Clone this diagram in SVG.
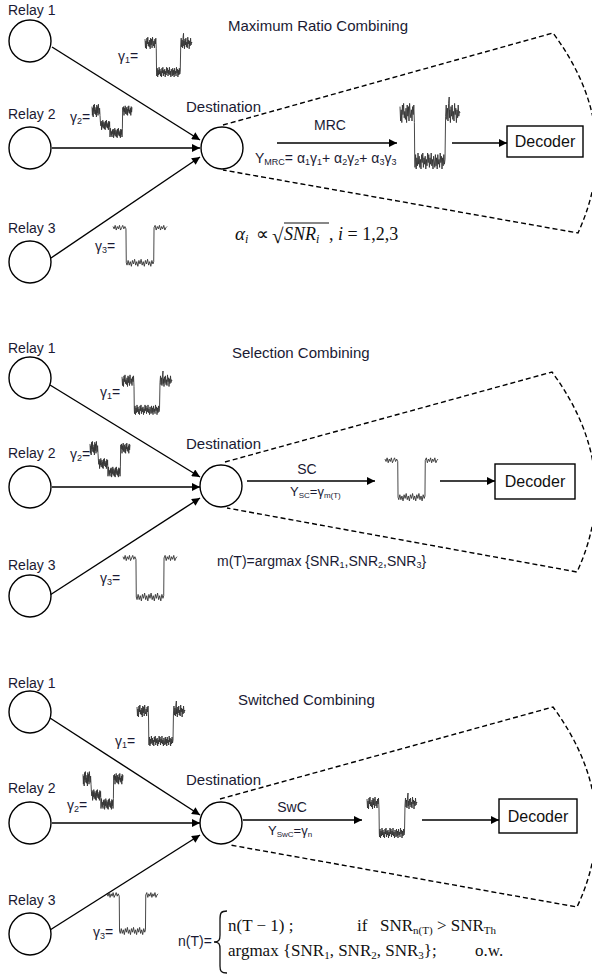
<svg xmlns="http://www.w3.org/2000/svg" xmlns:xlink="http://www.w3.org/1999/xlink" width="592" height="975" viewBox="0 0 592 975">
<style>
.t{font-family:"Liberation Sans",Arial,sans-serif;fill:#1a1a33}
.ti{font-size:15px}
.lb{font-size:14px}
.dec{font-size:16px;text-anchor:middle;fill:#111}
.m{font-family:"Liberation Serif","Times New Roman",serif;fill:#111}
.node{fill:#fff;stroke:#000;stroke-width:1.4}
.arr{stroke:#000;stroke-width:1.4;fill:none;marker-end:url(#ah)}
.dash{stroke:#000;stroke-width:1.4;stroke-dasharray:5 3;fill:none}
.wv{fill:none;stroke:#333;stroke-width:0.9;vector-effect:non-scaling-stroke;stroke-linejoin:round}
</style>
<defs>
<marker id="ah" viewBox="0 0 10 10" refX="10" refY="5" markerWidth="10" markerHeight="8" orient="auto" markerUnits="userSpaceOnUse"><path d="M0,0 L10,5 L0,10 z" fill="#000"/></marker>
<path id="wA" class="wv" d="M0,6 0.5,15 1,8 1.5,16 2,5 2.5,11 3,4 3.5,13 4,9 4.5,14 5,7 5.5,16 6,5 6.5,12 7,6 7.5,15 8,4 8.5,10 9,13 9.5,8 10,15 10.5,6 11,11 11.5,5 12,16 12.3,40 12.5,44 13,36 13.5,45 14,38 14.5,43 15,35 15.5,42 16,37 16.5,44 17,39 17.5,45 18,36 18.5,41 19,35 19.5,44 20,38 20.5,42 21,37 21.5,45 22,39 22.5,43 23,35 23.5,41 24,36 24.5,44 25,38 25.5,42 26,35 26.5,43 27,39 27.5,45 28,37 28.5,40 29,44 29.5,36 30,43 30.5,38 31,45 31.5,36 32,42 32.5,39 33,44 33.5,35 34,41 34.5,37 35,45 35.5,38 36,43 36.5,36 37,42 37.5,39 38,12 38.5,5 39,14 39.5,7 40,15 40.5,4 41,0 41.2,13 41.5,8 42,16 42.5,6 43,12 43.5,5 44,14 44.5,9 45,15 45.5,4 46,11 46.5,7 47,16 47.5,8 48,13 48.5,5 49,12 49.5,9 50,10"/>
<path id="wB" class="wv" d="M0,7 0.5,18 1,9 1.5,20 2,5 2.5,13 3,4 3.5,16 4,11 4.5,17 5,8 5.5,20 6,5 6.5,15 7,7 7.5,18 8,4 8.5,12 9,16 9.5,9 10,18 10.5,26 11,31 11.5,25 12,36 12.5,27 13,32 13.5,24 14,34 14.5,29 15,26 15.5,35 16,28 16.5,36 17,25 17.5,31 18,24 18.5,33 19,29 19.5,34 20,27 20.5,36 21,25 21.5,32 22,26 22.5,45 23,34 23.5,40 24,43 24.5,38 25,45 25.5,36 26,41 26.5,35 27,46 27.5,37 28,42 28.5,34 29,44 29.5,39 30,36 30.5,45 31,38 31.5,46 32,35 32.5,41 33,34 33.5,43 34,39 34.5,44 35,37 35.5,46 36,35 36.5,42 37,36 37.5,45 38,34 38.3,12 38.5,8 39,13 39.5,7 40,18 40.5,9 41,14 41.5,6 42,16 42.5,11 43,8 43.5,17 44,10 44.5,18 45,7 45.5,13 46,6 46.5,15 47,11 47.5,16 48,9 48.5,18 49,7 49.5,14 50,8"/>
<path id="wC" class="wv" d="M0,9 1,11 2,8 3,12 4,9 5,11 6,8 7,12 8,10 9,8 10,11 11,9 12,11 12.3,40 13,42 14,38 15,42 16,39 17,43 18,38 19,41 20,37 21,42 22,39 23,43 24,38 25,41 26,37 27,42 28,39 29,43 30,38 31,41 32,37 33,42 34,39 35,43 36,38 37,41 37.7,39 38,10 39,8 40,12 41,9 42,11 43,8 44,12 45,9 46,11 47,8 48,12 49,10 50,9"/>
</defs>
<rect width="592" height="975" fill="#fff"/>

<!-- connectors -->
<g id="connectors">
  <line class="arr" x1="52" y1="47" x2="200" y2="140"/>
  <line class="arr" x1="52" y1="148" x2="200" y2="148"/>
  <line class="arr" x1="51" y1="258" x2="200" y2="157"/>
  <line class="arr" x1="277" y1="143" x2="397" y2="143"/>
  <line class="arr" x1="452" y1="143" x2="507" y2="143"/>
  <path class="dash" d="M223,125 L553,33 Q625,130 578,233 L223,170"/>

  <line class="arr" x1="50" y1="385" x2="200" y2="477"/>
  <line class="arr" x1="52" y1="487" x2="200" y2="487"/>
  <line class="arr" x1="50" y1="595" x2="200" y2="498"/>
  <line class="arr" x1="247" y1="481" x2="375" y2="481"/>
  <line class="arr" x1="440" y1="481" x2="495" y2="481"/>
  <path class="dash" d="M225,462 L552,372 Q624,470 577,572 L227,508"/>

  <line class="arr" x1="50" y1="718" x2="200" y2="815"/>
  <line class="arr" x1="52" y1="823" x2="200" y2="823"/>
  <line class="arr" x1="50" y1="930" x2="200" y2="835"/>
  <line class="arr" x1="243" y1="820" x2="362" y2="820"/>
  <line class="arr" x1="422" y1="820" x2="499" y2="820"/>
  <path class="dash" d="M220,799 L553,707 Q625,805 577,907 L230,845"/>
</g>

<!-- Panel 1: MRC -->
<text class="t ti" x="228" y="31">Maximum Ratio Combining</text>
<g id="p1-relay1"><text class="t lb" x="8" y="15">Relay 1</text><circle class="node" cx="30" cy="41" r="21"/></g>
<g id="p1-relay2"><text class="t lb" x="8" y="119">Relay 2</text><circle class="node" cx="30" cy="148" r="21"/></g>
<g id="p1-relay3"><text class="t lb" x="8" y="233">Relay 3</text><circle class="node" cx="30" cy="262" r="21"/></g>
<g id="p1-dest"><text class="t ti" x="186" y="112">Destination</text><circle class="node" cx="222" cy="148" r="21"/></g>
<g id="p1-decoder"><rect class="node" x="507" y="126" width="76" height="31"/><text class="t dec" x="545" y="147">Decoder</text></g>
<g id="p1-signals">
  <text class="t lb" x="118" y="61">γ<tspan font-size="9" dy="2">1</tspan><tspan dy="-2">=</tspan></text>
  <use xlink:href="#wA" transform="translate(145,33.3) scale(0.94,0.97)"/>
  <text class="t lb" x="70" y="122">γ<tspan font-size="9" dy="2">2</tspan><tspan dy="-2">=</tspan></text>
  <use xlink:href="#wB" transform="translate(92,101) scale(0.8,0.8)"/>
  <text class="t lb" x="95" y="251">γ<tspan font-size="9" dy="2">3</tspan><tspan dy="-2">=</tspan></text>
  <use xlink:href="#wC" transform="translate(113,216) scale(1.08,1.17)"/>
  <use xlink:href="#wA" transform="translate(400,97) scale(1.2,1.6)"/>
</g>
<g id="p1-labels">
  <text class="t lb" x="330" y="130" text-anchor="middle">MRC</text>
  <text class="t lb" x="255" y="163">Y<tspan font-size="9" dy="2">MRC</tspan><tspan dy="-2">= α</tspan><tspan font-size="9" dy="2">1</tspan><tspan dy="-2">γ</tspan><tspan font-size="9" dy="2">1</tspan><tspan dy="-2">+ α</tspan><tspan font-size="9" dy="2">2</tspan><tspan dy="-2">γ</tspan><tspan font-size="9" dy="2">2</tspan><tspan dy="-2">+ α</tspan><tspan font-size="9" dy="2">3</tspan><tspan dy="-2">γ</tspan><tspan font-size="9" dy="2">3</tspan></text>
  <text class="m" x="235" y="240" font-size="19" font-style="italic">α<tspan font-size="12" dy="3">i</tspan></text>
  <text class="m" x="256" y="240" font-size="18">∝</text>
  <text class="m" x="272" y="243" font-size="21">√</text>
  <line x1="284" y1="223" x2="329" y2="223" stroke="#111" stroke-width="1.2"/>
  <text class="m" x="284" y="240" font-size="18" font-style="italic">SNR<tspan font-size="12" dy="3">i</tspan></text>
  <text class="m" x="329" y="240" font-size="18">, <tspan font-style="italic">i</tspan> = 1,2,3</text>
</g>

<!-- Panel 2: SC -->
<text class="t ti" x="232" y="358">Selection Combining</text>
<g id="p2-relay1"><text class="t lb" x="8" y="353">Relay 1</text><circle class="node" cx="30" cy="378" r="21"/></g>
<g id="p2-relay2"><text class="t lb" x="8" y="458">Relay 2</text><circle class="node" cx="30" cy="487" r="21"/></g>
<g id="p2-relay3"><text class="t lb" x="8" y="570">Relay 3</text><circle class="node" cx="30" cy="596" r="21"/></g>
<g id="p2-dest"><text class="t ti" x="186" y="449">Destination</text><circle class="node" cx="221" cy="486" r="21"/></g>
<g id="p2-decoder"><rect class="node" x="495" y="464" width="80" height="35"/><text class="t dec" x="535" y="487">Decoder</text></g>
<g id="p2-signals">
  <text class="t lb" x="100" y="397">γ<tspan font-size="9" dy="2">1</tspan><tspan dy="-2">=</tspan></text>
  <use xlink:href="#wA" transform="translate(122,371) scale(1,0.97)"/>
  <text class="t lb" x="70" y="459">γ<tspan font-size="9" dy="2">2</tspan><tspan dy="-2">=</tspan></text>
  <use xlink:href="#wB" transform="translate(90,438) scale(0.8,0.85)"/>
  <text class="t lb" x="100" y="583">γ<tspan font-size="9" dy="2">3</tspan><tspan dy="-2">=</tspan></text>
  <use xlink:href="#wC" transform="translate(123,545) scale(1.08,1.3)"/>
  <use xlink:href="#wC" transform="translate(385,448) scale(1.06,1.23)"/>
</g>
<g id="p2-labels">
  <text class="t lb" x="307" y="474" text-anchor="middle">SC</text>
  <text class="t" font-size="13" x="290" y="496">Y<tspan font-size="8" dy="2">SC</tspan><tspan dy="-2">=γ</tspan><tspan font-size="8" dy="2">m(T)</tspan></text>
  <text class="t lb" x="217" y="566">m(T)=argmax {SNR<tspan font-size="9" dy="2">1</tspan><tspan dy="-2">,SNR</tspan><tspan font-size="9" dy="2">2</tspan><tspan dy="-2">,SNR</tspan><tspan font-size="9" dy="2">3</tspan><tspan dy="-2">}</tspan></text>
</g>

<!-- Panel 3: SwC -->
<text class="t ti" x="238" y="705">Switched Combining</text>
<g id="p3-relay1"><text class="t lb" x="8" y="688">Relay 1</text><circle class="node" cx="30" cy="712" r="21"/></g>
<g id="p3-relay2"><text class="t lb" x="8" y="793">Relay 2</text><circle class="node" cx="30" cy="823" r="21"/></g>
<g id="p3-relay3"><text class="t lb" x="8" y="905">Relay 3</text><circle class="node" cx="30" cy="934" r="21"/></g>
<g id="p3-dest"><text class="t ti" x="186" y="785">Destination</text><circle class="node" cx="221" cy="823" r="21"/></g>
<g id="p3-decoder"><rect class="node" x="499" y="799" width="78" height="34"/><text class="t dec" x="538" y="822">Decoder</text></g>
<g id="p3-signals">
  <text class="t lb" x="115" y="746">γ<tspan font-size="9" dy="2">1</tspan><tspan dy="-2">=</tspan></text>
  <use xlink:href="#wA" transform="translate(137,701) scale(0.96,1)"/>
  <text class="t lb" x="67" y="810">γ<tspan font-size="9" dy="2">2</tspan><tspan dy="-2">=</tspan></text>
  <use xlink:href="#wB" transform="translate(83,768) scale(0.8,0.9)"/>
  <text class="t lb" x="93" y="937">γ<tspan font-size="9" dy="2">3</tspan><tspan dy="-2">=</tspan></text>
  <use xlink:href="#wC" transform="translate(107,883) scale(1.02,1.2)"/>
  <use xlink:href="#wA" transform="translate(367,793) scale(1,1)"/>
</g>
<g id="p3-labels">
  <text class="t lb" x="292" y="812" text-anchor="middle">SwC</text>
  <text class="t" font-size="13" x="268" y="835">Y<tspan font-size="8" dy="2">SwC</tspan><tspan dy="-2">=γ</tspan><tspan font-size="8" dy="2">n</tspan></text>
  <text class="t lb" x="178" y="946">n(T)=</text>
  <path d="M227,911 C221,911 220,913 220,919 L220,935 C220,940 219,942 214,942 C219,942 220,944 220,949 L220,966 C220,971 221,973 227,973" fill="none" stroke="#111" stroke-width="1.3"/>
  <text class="m" font-size="17" x="228" y="931">n(T − 1) ;</text>
  <text class="m" font-size="17" x="357" y="931">if</text>
  <text class="m" font-size="17" x="380" y="931">SNR<tspan font-size="11" dy="3">n(T)</tspan><tspan dy="-3"> &gt; SNR</tspan><tspan font-size="11" dy="3">Th</tspan></text>
  <text class="m" font-size="17" x="228" y="956">argmax {SNR<tspan font-size="11" dy="3">1</tspan><tspan dy="-3">, SNR</tspan><tspan font-size="11" dy="3">2</tspan><tspan dy="-3">, SNR</tspan><tspan font-size="11" dy="3">3</tspan><tspan dy="-3">};</tspan></text>
  <text class="m" font-size="17" x="475" y="956">o.w.</text>
</g>
</svg>
